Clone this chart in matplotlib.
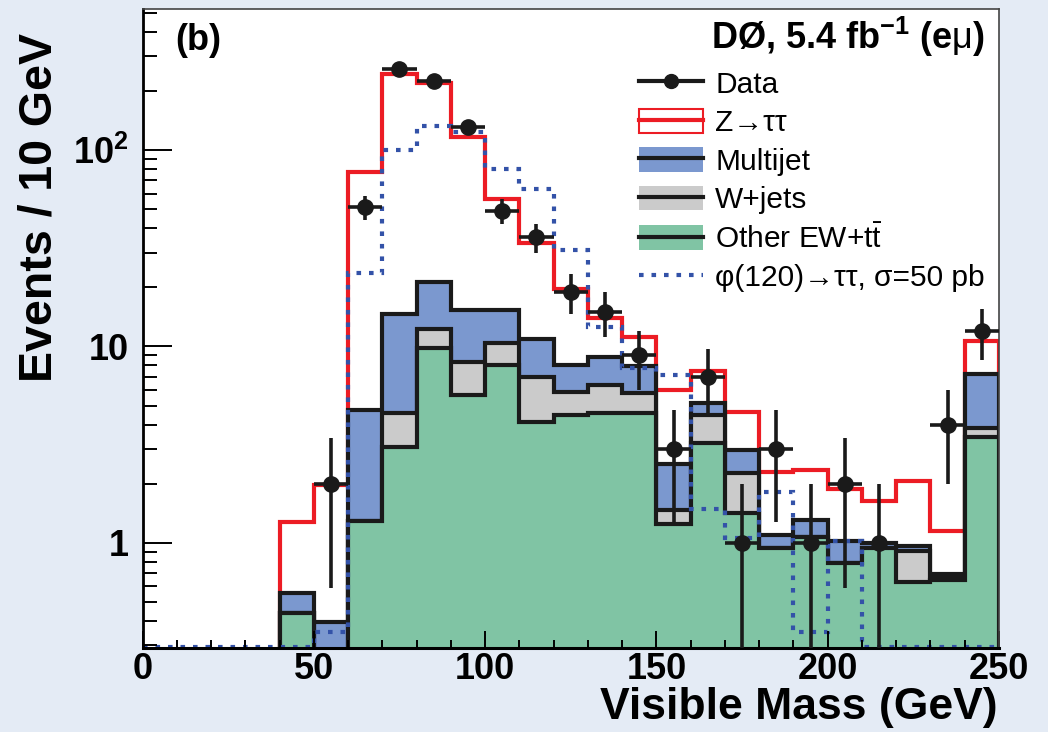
import numpy as np
import matplotlib.pyplot as plt
from matplotlib.lines import Line2D
from matplotlib.patches import Patch

plt.rcParams['font.family'] = ['Liberation Sans', 'DejaVu Sans']
plt.rcParams['mathtext.fontset'] = 'custom'
plt.rcParams['mathtext.rm'] = 'Liberation Sans'
plt.rcParams['mathtext.it'] = 'Liberation Sans:italic'
plt.rcParams['mathtext.bf'] = 'Liberation Sans:bold'

# visible mass, 10 GeV bins from 0 to 250
edges = np.arange(0, 260, 10)

data = np.array([0, 0, 0, 0, 0, 2, 51, 259, 224, 131, 49, 36, 19, 15, 9,
                 3, 7, 1, 3, 1, 2, 1, 0, 4, 12])

other_ew = np.array([0, 0, 0, 0, 0.44, 0, 1.29, 3.08, 9.78, 5.65, 8.04, 4.13, 4.47,
                     4.56, 4.6, 1.24, 3.23, 1.41, 0.94, 1.07, 0.79, 0.94, 0.633,
                     0.645, 3.47])
wjets = np.array([0, 0, 0, 0, 0, 0, 0, 1.48, 2.42, 2.71, 2.36, 2.83, 1.41,
                  1.80, 1.21, 0.23, 1.24, 0.85, 0, 0, 0, 0, 0.28, 0.02, 0.38])
multijet = np.array([0, 0, 0, 0, 0.116, 0.393, 3.45, 10.1, 9.1, 7.0, 5.0, 3.9,
                     2.16, 2.44, 2.13, 1.04, 0.66, 0.71, 0.16, 0.24, 0.23, 0.06,
                     0.05, 0.025, 3.36])
ztautau = np.array([0, 0, 0, 0, 0.72, 1.58, 72.9, 229, 198, 101, 41, 22.6, 11.5,
                    5.1, 3.26, 3.49, 2.39, 1.68, 1.18, 1.04, 0.86, 0.64, 1.11,
                    0.455, 3.39])

# phi(120) -> tautau signal, sigma = 50 pb
signal = np.array([0, 0, 0, 0, 0, 0.35, 23.6, 100, 133, 124, 80, 63, 31, 12.6,
                   7.73, 7.15, 1.48, 1.06, 1.81, 0.35, 1.02, 0, 0, 0, 0])

ymin, ymax = 0.29, 521
floor = 1e-3

c_red = '#ec1c24'
c_multi = '#7b98cf'
c_wjets = '#cbcbcb'
c_other = '#80c4a4'
c_sig = '#3352a8'
c_line = '#1a1a1a'
sig_style = (0, (1.1, 1.9))

fig = plt.figure(figsize=(10.48, 7.32), dpi=100)
fig.patch.set_facecolor('#e4ebf5')
ax = fig.add_axes([142.5 / 1048, 1 - 648.3 / 732, (999 - 142.5) / 1048, (648.3 - 9.3) / 732])
ax.set_yscale('log')

# stacked backgrounds, drawn largest first like a THStack
cum_other = other_ew
cum_wjets = cum_other + wjets
cum_multi = cum_wjets + multijet
cum_total = cum_multi + ztautau

layers = [(cum_total, 'white', c_red),
          (cum_multi, c_multi, c_line),
          (cum_wjets, c_wjets, c_line),
          (cum_other, c_other, c_line)]
for vals, fc, ec in layers:
    v = np.maximum(vals, floor)
    ax.stairs(v, edges, fill=True, color=fc, baseline=floor, lw=0)
    ax.stairs(v, edges, fill=False, color=ec, baseline=floor, lw=3.0)

# signal, empty bins sit on the axis floor
ax.stairs(np.clip(signal, ymin * 1.01, None), edges, fill=False, baseline=None,
          color=c_sig, lw=3.0, linestyle=sig_style)

centers = 0.5 * (edges[:-1] + edges[1:])
has = data > 0
err = np.sqrt(data[has])
err_lo = np.minimum(err, data[has] - floor)
ax.errorbar(centers[has], data[has], xerr=5, yerr=[err_lo, err], fmt='o',
            color=c_line, ms=11, elinewidth=2.6, capsize=0, zorder=10)

ax.set_xlim(0, 250)
ax.set_ylim(ymin, ymax)

ax.set_yticks([1, 10, 100])
ax.set_yticklabels(['1', '10', r'$\mathbf{10^{2}}$'])
ax.set_xticks([0, 50, 100, 150, 200, 250])
ax.set_xticks(np.arange(0, 251, 10), minor=True)
ax.yaxis.set_minor_formatter(plt.NullFormatter())

ax.tick_params(axis='y', which='major', direction='in', length=21, width=1.4,
               labelsize=26, pad=10, right=False)
ax.tick_params(axis='y', which='minor', direction='in', length=10, width=1.4, right=False)
ax.tick_params(axis='x', which='major', direction='in', length=12, width=1.4,
               labelsize=26, pad=3, top=False)
ax.tick_params(axis='x', which='minor', direction='in', length=5.5, width=1.4, top=False)
for lab in ax.get_xticklabels() + ax.get_yticklabels():
    lab.set_fontweight('bold')

ax.spines['left'].set_linewidth(2.0)
ax.spines['bottom'].set_linewidth(2.2)
ax.spines['top'].set_linewidth(1.2)
ax.spines['right'].set_linewidth(1.2)
ax.spines['top'].set_color('#444444')
ax.spines['right'].set_color('#444444')

fig.text(998 / 1048, 1 - 708 / 732, 'Visible Mass (GeV)', ha='right', va='center',
         fontsize=32, fontweight='bold')
fig.text(40 / 1048, 1 - 33 / 732, 'Events / 10 GeV', ha='center', va='top',
         rotation=90, fontsize=33.5, fontweight='bold')

fig.text(175 / 1048, 1 - 40 / 732, '(b)', ha='left', va='center',
         fontsize=26, fontweight='bold')
fig.text(985 / 1048, 1 - 37 / 732, 'DØ, 5.4 fb$^{\\mathbf{-1}}$ (e$\\mathrm{\\mu}$)',
         ha='right', va='center', fontsize=26, fontweight='bold')

handles = [
    Line2D([], [], color=c_line, lw=3, marker='o', ms=10),
    (Patch(facecolor='white', edgecolor=c_red, lw=1.5), Line2D([], [], color=c_red, lw=3)),
    (Patch(facecolor=c_multi, lw=0), Line2D([], [], color=c_line, lw=3)),
    (Patch(facecolor=c_wjets, lw=0), Line2D([], [], color=c_line, lw=3)),
    (Patch(facecolor=c_other, lw=0), Line2D([], [], color=c_line, lw=3)),
    Line2D([], [], color=c_sig, lw=3, linestyle=sig_style),
]
labels = ['Data', 'Z→ττ', 'Multijet', 'W+jets',
          r'Other EW+$\mathrm{t}\bar{\mathrm{t}}$',
          'φ(120)→ττ, σ=50 pb']
ax.legend(handles, labels, loc='upper left', bbox_to_anchor=(639 / 1048, 1 - 70 / 732),
          bbox_transform=fig.transFigure, frameon=False, fontsize=21.5,
          handlelength=2.15, handleheight=0.9, handletextpad=0.4,
          labelspacing=0.33, borderpad=0, borderaxespad=0)

fig.savefig('out.png', dpi=100, facecolor=fig.get_facecolor())
